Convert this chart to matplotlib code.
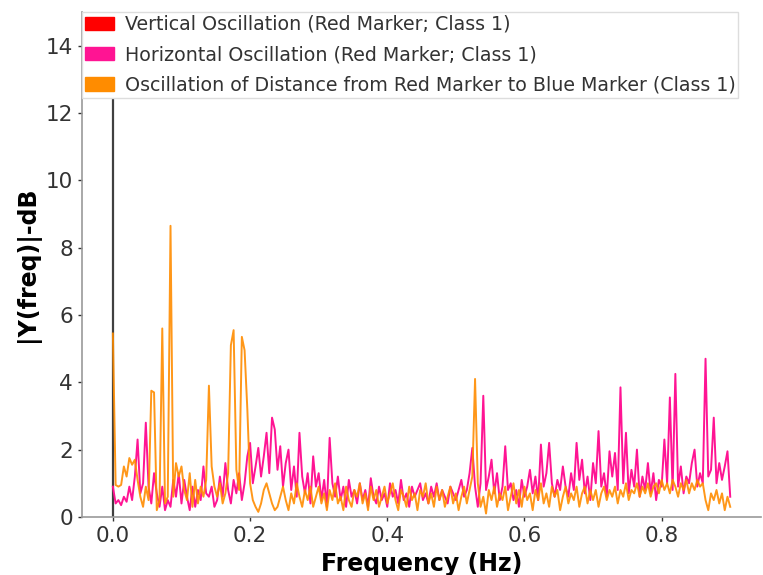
import numpy as np
import matplotlib.pyplot as plt
from matplotlib.patches import Patch

# frequency bins (Hz), 0.004 Hz spacing up to 0.9 Hz
freq_step = 0.004
n_bins = 226

# oscillation of distance from red marker to blue marker
distance_osc = [
    5.45, 0.95, 0.9, 0.95, 1.5, 1.2, 1.75, 1.55, 1.7, 1.1,
    0.6, 0.3, 0.9, 0.5, 3.75, 3.7, 0.2, 0.5, 5.6, 0.4,
    0.6, 8.65, 0.6, 1.6, 1.2, 1.5, 0.8, 0.5, 1.3, 0.3,
    1.1, 0.4, 0.9, 0.6, 1.1, 3.9, 1.5, 0.9, 0.6, 1.0,
    0.4, 0.7, 1.3, 5.1, 5.55, 1.4, 0.8, 5.35, 4.95, 3.2,
    1.0, 0.5, 0.3, 0.15, 0.4, 0.8, 1.0, 0.7, 0.4, 0.2,
    0.3, 0.6, 0.9, 0.5, 0.2, 0.7, 0.4, 1.0, 0.6, 0.3,
    0.8, 0.5, 0.9, 0.3, 0.6, 0.9, 0.4, 0.7, 0.2, 0.8,
    0.5, 1.0, 0.4, 0.6, 0.2, 0.9, 0.5, 0.3, 0.8, 0.6,
    1.0, 0.4, 0.7, 0.2, 0.9, 0.5, 0.8, 0.3, 0.6, 0.9,
    0.4, 0.7, 1.0, 0.5, 0.2, 0.8, 0.6, 0.3, 0.9, 0.5,
    0.7, 0.2, 0.8, 0.6, 1.0, 0.4, 0.7, 0.3, 0.9, 0.5,
    0.8, 0.3, 0.6, 0.9, 0.4, 0.7, 0.2, 0.6, 0.9, 0.4,
    0.8, 1.2, 4.1, 1.0, 0.3, 0.6, 0.1, 0.8, 0.5, 0.9,
    0.3, 0.7, 0.5, 0.9, 0.2, 0.6, 1.0, 0.4, 0.8, 0.3,
    0.9, 0.5, 0.7, 0.2, 0.8, 0.5, 1.0, 0.4, 0.7, 0.3,
    0.9, 0.6, 0.8, 0.2, 0.6, 0.9, 0.4, 0.7, 0.5, 0.9,
    0.3, 0.7, 0.9, 0.4, 0.8, 0.5, 0.8, 0.3, 0.7, 0.9,
    0.5, 0.8, 0.6, 0.9, 0.4, 0.8, 0.6, 1.0, 0.5, 0.8,
    0.7, 1.0, 0.6, 0.9, 0.7, 1.0, 0.6, 0.9, 1.0, 0.7,
    1.1, 0.8, 1.0, 0.7, 1.1, 0.9, 0.6, 1.0, 0.8, 1.1,
    0.7, 1.0, 0.8, 1.1, 0.9, 1.0, 0.5, 0.2, 0.7, 0.5,
    0.8, 0.4, 0.7, 0.2, 0.6, 0.3,
]

# horizontal oscillation of the red marker
horizontal_osc = [
    0.9, 0.4, 0.5, 0.35, 0.6, 0.45, 0.9, 0.5, 1.2, 2.3,
    0.7, 1.0, 2.8, 0.9, 0.4, 1.3, 0.7, 0.3, 0.9, 0.2,
    0.5, 0.3, 1.1, 0.6, 1.3, 0.4, 1.1, 0.6, 0.2, 0.9,
    0.3, 0.8, 0.5, 1.5, 0.7, 0.6, 0.9, 0.3, 0.5, 1.2,
    0.6, 1.6, 0.8, 0.4, 1.1, 0.7, 1.3, 0.5, 1.0, 1.8,
    2.2, 1.0, 1.5, 2.05, 1.2, 1.8, 2.5, 1.3, 2.95, 2.6,
    1.4, 2.1, 0.9, 1.6, 2.0, 0.8, 1.5, 0.6, 2.5, 1.2,
    0.7, 1.3, 0.4, 1.8, 0.9, 1.3, 0.5, 1.1, 0.3, 2.35,
    1.0, 0.6, 1.2, 0.5, 0.9, 0.3, 1.1, 0.6, 0.8, 0.4,
    1.0, 0.5, 0.8, 0.3, 1.15, 0.6, 0.4, 0.9, 0.5, 0.7,
    0.3, 1.0, 0.6, 0.8, 0.4, 1.1, 0.5, 0.7, 0.3, 0.9,
    0.6, 0.8, 1.0, 0.5, 0.7, 0.4, 0.9, 0.6, 1.0, 0.5,
    0.8, 0.6, 0.4, 0.9, 0.7, 0.5, 0.8, 1.1, 0.6, 0.8,
    1.3, 2.05, 0.9, 0.3, 1.0, 3.6, 0.8, 1.2, 1.7, 0.7,
    1.3, 0.5, 0.9, 2.1, 0.8, 1.0, 0.5, 0.8, 0.3, 1.1,
    0.6, 0.9, 1.4, 0.7, 1.2, 0.5, 2.15, 0.9, 1.3, 2.2,
    1.0, 0.6, 1.1, 0.8, 1.5, 0.9, 0.6, 1.3, 0.8, 2.2,
    1.1, 1.7, 0.7, 1.2, 0.5, 1.6, 1.0, 2.55, 0.9, 1.3,
    0.6, 1.95, 1.2, 1.9, 0.8, 3.85, 1.0, 2.5, 0.7, 1.4,
    0.9, 2.0, 0.6, 1.2, 0.8, 1.6, 0.7, 1.3, 0.5, 1.1,
    0.9, 2.3, 1.0, 3.55, 0.8, 4.25, 0.9, 1.5, 0.7, 1.2,
    1.0, 1.6, 2.0, 0.9, 1.3, 1.0, 4.7, 1.2, 1.4, 2.95,
    1.0, 1.6, 1.1, 1.5, 1.95, 0.6,
]

legend_labels = [
    "Vertical Oscillation (Red Marker; Class 1)",
    "Horizontal Oscillation (Red Marker; Class 1)",
    "Oscillation of Distance from Red Marker to Blue Marker (Class 1)",
]
colors = ["#ff0000", "#ff1493", "#ff8c00"]

freqs = np.arange(n_bins) * freq_step

fig = plt.figure(figsize=(7.63, 5.75), dpi=100)
ax = fig.add_axes([0.1075, 0.101, 0.89, 0.878])

ax.axvline(0, color="#404040", lw=1.6, zorder=1)
ax.plot(freqs, horizontal_osc, color=colors[1], lw=1.4, zorder=2)
ax.plot(freqs, distance_osc, color=colors[2], lw=1.4, alpha=0.9, zorder=3)

ax.set_ylim(0, 15)
ax.set_xticks([0.0, 0.2, 0.4, 0.6, 0.8])
ax.set_yticks(range(0, 15, 2))
ax.tick_params(labelsize=15.5, length=3, width=1, colors="#333333")
for side in ["top", "right"]:
    ax.spines[side].set_visible(False)
for side in ["left", "bottom"]:
    ax.spines[side].set_color("#999999")
    ax.spines[side].set_linewidth(1.2)

ax.set_xlabel("Frequency (Hz)", fontsize=17, fontweight="bold")
ax.set_ylabel("|Y(freq)|-dB", fontsize=17, fontweight="bold")

handles = [Patch(color=c) for c in colors]
leg = ax.legend(handles, legend_labels, loc="upper left", bbox_to_anchor=(0, 1),
                fontsize=13.7, frameon=True, fancybox=False, framealpha=1,
                labelspacing=0.6, borderpad=0.15, borderaxespad=0,
                handlelength=1.55, handleheight=0.7, handletextpad=0.55)
leg.set_zorder(5)
leg.get_frame().set_edgecolor("#dddddd")
for t in leg.get_texts():
    t.set_color("#333333")

fig.savefig("out.png", dpi=100)
